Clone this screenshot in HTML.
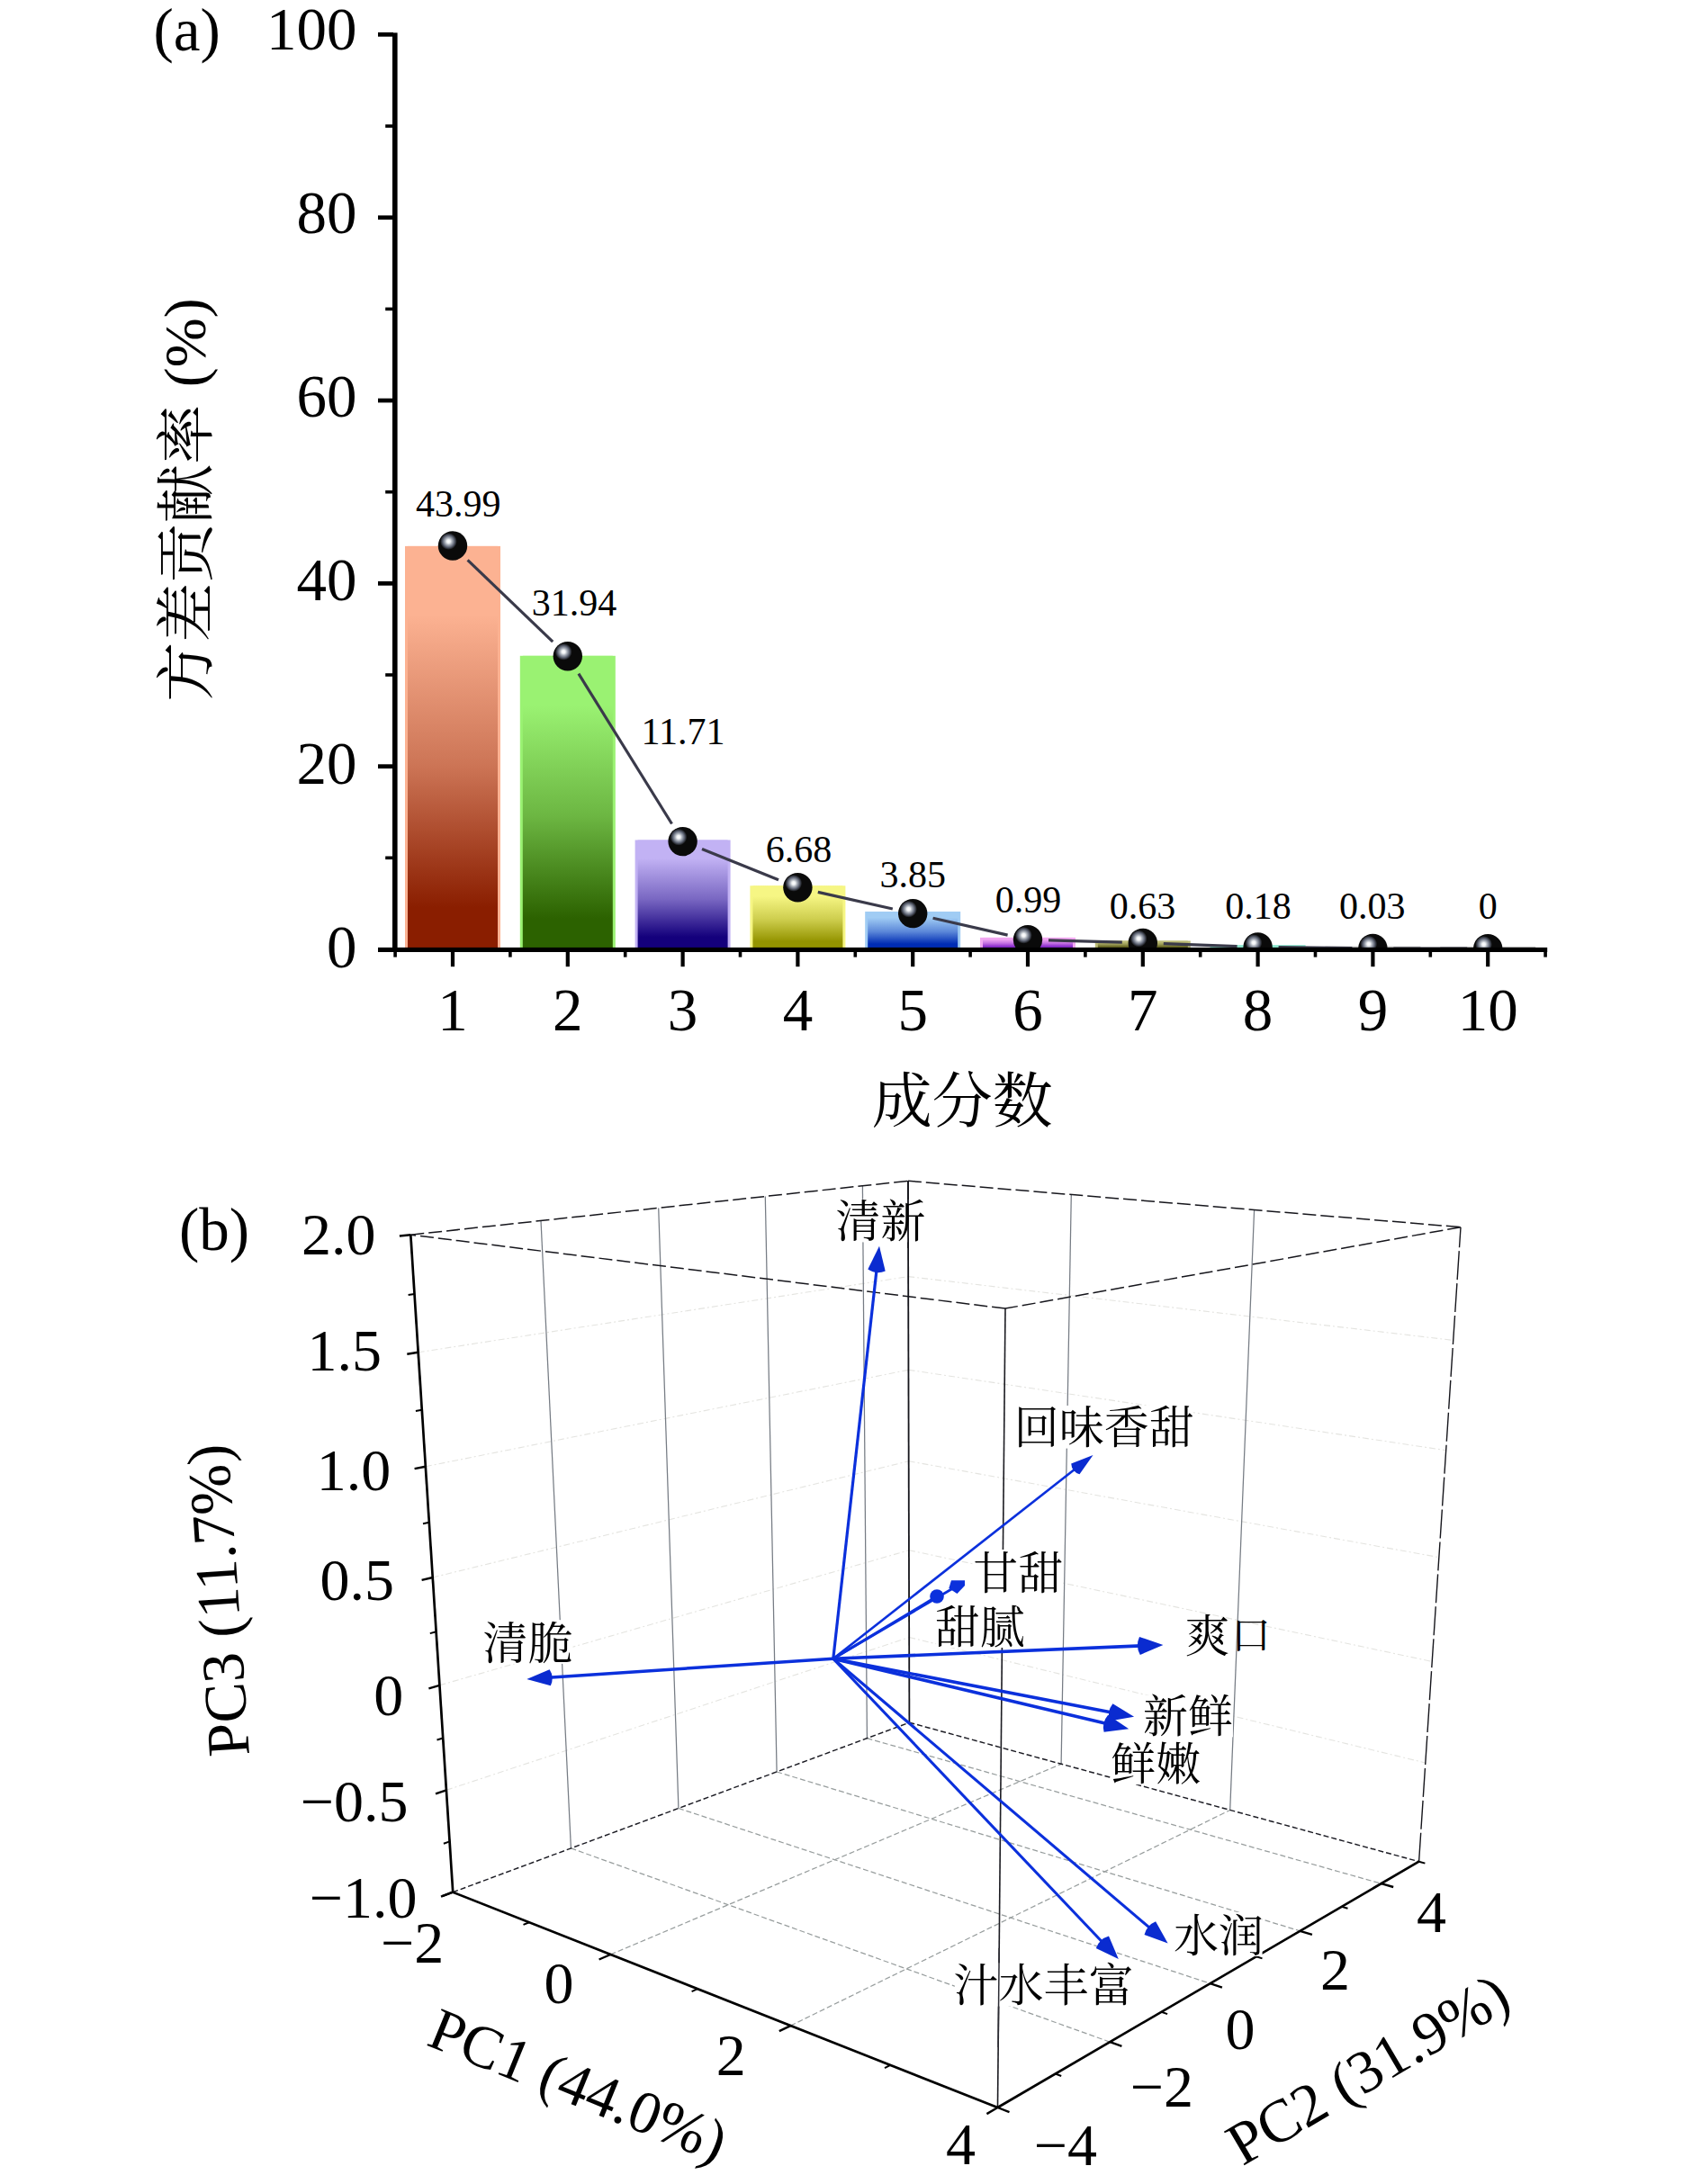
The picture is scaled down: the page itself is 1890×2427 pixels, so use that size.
<!DOCTYPE html>
<html lang="zh"><head><meta charset="utf-8"><title>PCA</title>
<style>
html,body{margin:0;padding:0;background:#fff}
svg{display:block}
text{font-family:"Liberation Serif","Noto Serif CJK SC",serif;fill:#000}
.cj{font-family:"Liberation Serif","Noto Serif CJK SC",serif}
</style></head><body>
<svg width="1890" height="2427" viewBox="0 0 1890 2427">
<rect width="1890" height="2427" fill="#fff"/>
<defs>
<radialGradient id="hl" cx="0.5" cy="0.5" r="0.5">
<stop offset="0" stop-color="#ffffff"/><stop offset="0.2" stop-color="#f0f2f4"/><stop offset="0.42" stop-color="#a8aeb8"/><stop offset="0.7" stop-color="#5a6070"/><stop offset="1" stop-color="#0a0a0a"/>
</radialGradient>
<clipPath id="clipA"><rect x="441" y="0" width="1300" height="1053"/></clipPath>

<linearGradient id="g0" x1="0" y1="0" x2="0" y2="1"><stop offset="0" stop-color="#FCB292"/><stop offset="0.17" stop-color="#FCB292"/><stop offset="0.55" stop-color="#cc7455"/><stop offset="0.9" stop-color="#8A1E00"/><stop offset="1" stop-color="#8A1E00"/></linearGradient>
<linearGradient id="g1" x1="0" y1="0" x2="0" y2="1"><stop offset="0" stop-color="#9AF272"/><stop offset="0.17" stop-color="#9AF272"/><stop offset="0.55" stop-color="#6cb642"/><stop offset="0.9" stop-color="#2C6200"/><stop offset="1" stop-color="#2C6200"/></linearGradient>
<linearGradient id="g2" x1="0" y1="0" x2="0" y2="1"><stop offset="0" stop-color="#C2B2F4"/><stop offset="0.17" stop-color="#C2B2F4"/><stop offset="0.55" stop-color="#7967c2"/><stop offset="0.9" stop-color="#14007C"/><stop offset="1" stop-color="#14007C"/></linearGradient>
<linearGradient id="g3" x1="0" y1="0" x2="0" y2="1"><stop offset="0" stop-color="#F6F684"/><stop offset="0.17" stop-color="#F6F684"/><stop offset="0.55" stop-color="#cdcd4d"/><stop offset="0.9" stop-color="#949400"/><stop offset="1" stop-color="#949400"/></linearGradient>
<linearGradient id="g4" x1="0" y1="0" x2="0" y2="1"><stop offset="0" stop-color="#A0CCF4"/><stop offset="0.17" stop-color="#A0CCF4"/><stop offset="0.55" stop-color="#5d89d9"/><stop offset="0.9" stop-color="#002CB4"/><stop offset="1" stop-color="#002CB4"/></linearGradient>
<linearGradient id="g5" x1="0" y1="0" x2="0" y2="1"><stop offset="0" stop-color="#F2A8F2"/><stop offset="0.17" stop-color="#F2A8F2"/><stop offset="0.55" stop-color="#c674e2"/><stop offset="0.9" stop-color="#8A2CCC"/><stop offset="1" stop-color="#8A2CCC"/></linearGradient>
<linearGradient id="g6" x1="0" y1="0" x2="0" y2="1"><stop offset="0" stop-color="#BCBC78"/><stop offset="0.17" stop-color="#BCBC78"/><stop offset="0.55" stop-color="#979753"/><stop offset="0.9" stop-color="#646420"/><stop offset="1" stop-color="#646420"/></linearGradient>
<linearGradient id="g7" x1="0" y1="0" x2="0" y2="1"><stop offset="0" stop-color="#90E8D0"/><stop offset="0.17" stop-color="#90E8D0"/><stop offset="0.55" stop-color="#5abca1"/><stop offset="0.9" stop-color="#108060"/><stop offset="1" stop-color="#108060"/></linearGradient>
<linearGradient id="g8" x1="0" y1="0" x2="0" y2="1"><stop offset="0" stop-color="#c0c0c0"/><stop offset="0.17" stop-color="#c0c0c0"/><stop offset="0.55" stop-color="#989898"/><stop offset="0.9" stop-color="#606060"/><stop offset="1" stop-color="#606060"/></linearGradient>
<linearGradient id="g9" x1="0" y1="0" x2="0" y2="1"><stop offset="0" stop-color="#c0c0c0"/><stop offset="0.17" stop-color="#c0c0c0"/><stop offset="0.55" stop-color="#989898"/><stop offset="0.9" stop-color="#606060"/><stop offset="1" stop-color="#606060"/></linearGradient>
</defs>
<g id="panelA">
<rect x="450.0" y="606.9" width="106" height="446.1" fill="#FCB292"/>
<rect x="453.0" y="606.9" width="100.0" height="446.1" fill="url(#g0)"/>
<rect x="577.8" y="728.8" width="106" height="324.2" fill="#9AF272"/>
<rect x="580.8" y="728.8" width="100.0" height="324.2" fill="url(#g1)"/>
<rect x="705.6" y="933.5" width="106" height="119.5" fill="#C2B2F4"/>
<rect x="708.6" y="933.5" width="100.0" height="119.5" fill="url(#g2)"/>
<rect x="833.4" y="984.3" width="106" height="68.7" fill="#F6F684"/>
<rect x="836.4" y="984.3" width="100.0" height="68.7" fill="url(#g3)"/>
<rect x="961.2" y="1013.0" width="106" height="40.0" fill="#A0CCF4"/>
<rect x="964.2" y="1013.0" width="100.0" height="40.0" fill="url(#g4)"/>
<rect x="1089.0" y="1041.9" width="106" height="11.1" fill="#F2A8F2"/>
<rect x="1092.0" y="1041.9" width="100.0" height="11.1" fill="url(#g5)"/>
<rect x="1216.8" y="1045.5" width="106" height="7.5" fill="#BCBC78"/>
<rect x="1219.8" y="1045.5" width="100.0" height="7.5" fill="url(#g6)"/>
<rect x="1344.6" y="1050.1" width="106" height="2.9" fill="#90E8D0"/>
<rect x="1472.4" y="1051.6" width="106" height="1.4" fill="#c0c0c0"/>
<rect x="1600.2" y="1051.9" width="106" height="1.1" fill="#c0c0c0"/>
<g clip-path="url(#clipA)">
<line x1="519.6" y1="622.4" x2="614.2" y2="713.2" stroke="#3a3a4a" stroke-width="3.2"/>
<line x1="642.9" y1="748.7" x2="746.5" y2="915.5" stroke="#3a3a4a" stroke-width="3.2"/>
<line x1="780.0" y1="943.6" x2="865.0" y2="977.7" stroke="#3a3a4a" stroke-width="3.2"/>
<line x1="908.8" y1="991.4" x2="991.8" y2="1010.0" stroke="#3a3a4a" stroke-width="3.2"/>
<line x1="1036.6" y1="1020.2" x2="1119.6" y2="1039.1" stroke="#3a3a4a" stroke-width="3.2"/>
<line x1="1165.0" y1="1044.9" x2="1246.8" y2="1047.2" stroke="#3a3a4a" stroke-width="3.2"/>
<line x1="1292.8" y1="1048.7" x2="1374.6" y2="1051.6" stroke="#3a3a4a" stroke-width="3.2"/>
<line x1="1420.6" y1="1052.7" x2="1502.4" y2="1053.7" stroke="#3a3a4a" stroke-width="3.2"/>
<line x1="1548.4" y1="1054.0" x2="1630.2" y2="1054.2" stroke="#3a3a4a" stroke-width="3.2"/>
<circle cx="503.0" cy="606.5" r="16.2" fill="#0a0a0a"/><circle cx="498.4" cy="601.6" r="9.4" fill="url(#hl)"/>
<circle cx="630.8" cy="729.2" r="16.2" fill="#0a0a0a"/><circle cx="626.2" cy="724.3" r="9.4" fill="url(#hl)"/>
<circle cx="758.6" cy="935.1" r="16.2" fill="#0a0a0a"/><circle cx="754.0" cy="930.2" r="9.4" fill="url(#hl)"/>
<circle cx="886.4" cy="986.3" r="16.2" fill="#0a0a0a"/><circle cx="881.8" cy="981.4" r="9.4" fill="url(#hl)"/>
<circle cx="1014.2" cy="1015.1" r="16.2" fill="#0a0a0a"/><circle cx="1009.6" cy="1010.2" r="9.4" fill="url(#hl)"/>
<circle cx="1142.0" cy="1044.2" r="16.2" fill="#0a0a0a"/><circle cx="1137.4" cy="1039.3" r="9.4" fill="url(#hl)"/>
<circle cx="1269.8" cy="1047.9" r="16.2" fill="#0a0a0a"/><circle cx="1265.2" cy="1043.0" r="9.4" fill="url(#hl)"/>
<circle cx="1397.6" cy="1052.5" r="16.2" fill="#0a0a0a"/><circle cx="1393.0" cy="1047.6" r="9.4" fill="url(#hl)"/>
<circle cx="1525.4" cy="1054.0" r="16.2" fill="#0a0a0a"/><circle cx="1520.8" cy="1049.1" r="9.4" fill="url(#hl)"/>
<circle cx="1653.2" cy="1054.3" r="16.2" fill="#0a0a0a"/><circle cx="1648.6" cy="1049.4" r="9.4" fill="url(#hl)"/>
</g>
<rect x="436" y="36.4" width="5.6" height="1021.6" fill="#000"/>
<rect x="420" y="1052.9" width="1299.2" height="5.1" fill="#000"/>
<rect x="428.2" y="951.5" width="9" height="3.6" fill="#000"/>
<rect x="420" y="849.3" width="17" height="4.7" fill="#000"/>
<rect x="428.2" y="748.2" width="9" height="3.6" fill="#000"/>
<rect x="420" y="646.0" width="17" height="4.7" fill="#000"/>
<rect x="428.2" y="544.9" width="9" height="3.6" fill="#000"/>
<rect x="420" y="442.7" width="17" height="4.7" fill="#000"/>
<rect x="428.2" y="341.6" width="9" height="3.6" fill="#000"/>
<rect x="420" y="239.4" width="17" height="4.7" fill="#000"/>
<rect x="428.2" y="138.3" width="9" height="3.6" fill="#000"/>
<rect x="420" y="36.0" width="17" height="4.7" fill="#000"/>
<rect x="500.9" y="1057" width="4.2" height="17.2" fill="#000"/>
<rect x="628.7" y="1057" width="4.2" height="17.2" fill="#000"/>
<rect x="756.5" y="1057" width="4.2" height="17.2" fill="#000"/>
<rect x="884.3" y="1057" width="4.2" height="17.2" fill="#000"/>
<rect x="1012.1" y="1057" width="4.2" height="17.2" fill="#000"/>
<rect x="1139.9" y="1057" width="4.2" height="17.2" fill="#000"/>
<rect x="1267.7" y="1057" width="4.2" height="17.2" fill="#000"/>
<rect x="1395.5" y="1057" width="4.2" height="17.2" fill="#000"/>
<rect x="1523.3" y="1057" width="4.2" height="17.2" fill="#000"/>
<rect x="1651.1" y="1057" width="4.2" height="17.2" fill="#000"/>
<rect x="437.3" y="1057" width="3.6" height="6.6" fill="#000"/>
<rect x="565.1" y="1057" width="3.6" height="6.6" fill="#000"/>
<rect x="692.9" y="1057" width="3.6" height="6.6" fill="#000"/>
<rect x="820.7" y="1057" width="3.6" height="6.6" fill="#000"/>
<rect x="948.5" y="1057" width="3.6" height="6.6" fill="#000"/>
<rect x="1076.3" y="1057" width="3.6" height="6.6" fill="#000"/>
<rect x="1204.1" y="1057" width="3.6" height="6.6" fill="#000"/>
<rect x="1331.9" y="1057" width="3.6" height="6.6" fill="#000"/>
<rect x="1459.7" y="1057" width="3.6" height="6.6" fill="#000"/>
<rect x="1587.5" y="1057" width="3.6" height="6.6" fill="#000"/>
<rect x="1715.3" y="1057" width="3.6" height="6.6" fill="#000"/>
<text x="396.5" y="1074.7" font-size="67" text-anchor="end">0</text>
<text x="396.5" y="870.8" font-size="67" text-anchor="end">20</text>
<text x="396.5" y="666.9" font-size="67" text-anchor="end">40</text>
<text x="396.5" y="463.0" font-size="67" text-anchor="end">60</text>
<text x="396.5" y="259.1" font-size="67" text-anchor="end">80</text>
<text x="396.5" y="55.2" font-size="67" text-anchor="end">100</text>
<text x="503.0" y="1144.5" font-size="67" text-anchor="middle">1</text>
<text x="630.8" y="1144.5" font-size="67" text-anchor="middle">2</text>
<text x="758.6" y="1144.5" font-size="67" text-anchor="middle">3</text>
<text x="886.4" y="1144.5" font-size="67" text-anchor="middle">4</text>
<text x="1014.2" y="1144.5" font-size="67" text-anchor="middle">5</text>
<text x="1142.0" y="1144.5" font-size="67" text-anchor="middle">6</text>
<text x="1269.8" y="1144.5" font-size="67" text-anchor="middle">7</text>
<text x="1397.6" y="1144.5" font-size="67" text-anchor="middle">8</text>
<text x="1525.4" y="1144.5" font-size="67" text-anchor="middle">9</text>
<text x="1653.2" y="1144.5" font-size="67" text-anchor="middle">10</text>
<text x="170.5" y="55.6" font-size="67">(a)</text>
<text x="509.2" y="574.1" font-size="42" text-anchor="middle">43.99</text>
<text x="638" y="684" font-size="42" text-anchor="middle">31.94</text>
<text x="759.1" y="826.6" font-size="42" text-anchor="middle">11.71</text>
<text x="887.5" y="957.8" font-size="42" text-anchor="middle">6.68</text>
<text x="1014.2" y="985.5" font-size="42" text-anchor="middle">3.85</text>
<text x="1142.5" y="1013.5" font-size="42" text-anchor="middle">0.99</text>
<text x="1269.6" y="1020.6" font-size="42" text-anchor="middle">0.63</text>
<text x="1397.9" y="1020.6" font-size="42" text-anchor="middle">0.18</text>
<text x="1524.8" y="1020.6" font-size="42" text-anchor="middle">0.03</text>
<text x="1653.2" y="1020.6" font-size="42" text-anchor="middle">0</text>
<text class="cj" x="1069.3" y="1247.3" font-size="67" text-anchor="middle">成分数</text>
<text class="cj" transform="translate(229.5,555.5) rotate(-90)" font-size="66" text-anchor="middle">方差贡献率<tspan dx="3" dy="-2"> (%)</tspan></text>
</g>
<g id="panelB" fill="none">
<line x1="495.9" y1="1989.3" x2="1010.2" y2="1819.5" stroke="#e4e4e0" stroke-width="1.1" stroke-dasharray="7 3 2 3"/>
<line x1="1010.2" y1="1819.5" x2="1583.8" y2="1959.0" stroke="#e4e4e0" stroke-width="1.1" stroke-dasharray="7 3 2 3"/>
<line x1="488.4" y1="1872.8" x2="1010.0" y2="1722.7" stroke="#e4e4e0" stroke-width="1.1" stroke-dasharray="7 3 2 3"/>
<line x1="1010.0" y1="1722.7" x2="1591.2" y2="1846.4" stroke="#e4e4e0" stroke-width="1.1" stroke-dasharray="7 3 2 3"/>
<line x1="480.7" y1="1753.0" x2="1009.7" y2="1623.7" stroke="#e4e4e0" stroke-width="1.1" stroke-dasharray="7 3 2 3"/>
<line x1="1009.7" y1="1623.7" x2="1598.9" y2="1730.6" stroke="#e4e4e0" stroke-width="1.1" stroke-dasharray="7 3 2 3"/>
<line x1="472.8" y1="1629.7" x2="1009.5" y2="1522.3" stroke="#e4e4e0" stroke-width="1.1" stroke-dasharray="7 3 2 3"/>
<line x1="1009.5" y1="1522.3" x2="1606.7" y2="1611.7" stroke="#e4e4e0" stroke-width="1.1" stroke-dasharray="7 3 2 3"/>
<line x1="464.7" y1="1502.8" x2="1009.2" y2="1418.6" stroke="#e4e4e0" stroke-width="1.1" stroke-dasharray="7 3 2 3"/>
<line x1="1009.2" y1="1418.6" x2="1614.8" y2="1489.4" stroke="#e4e4e0" stroke-width="1.1" stroke-dasharray="7 3 2 3"/>
<line x1="634.4" y1="2053.9" x2="601.0" y2="1356.5" stroke="#767c84" stroke-width="1.25"/>
<line x1="753.9" y1="2009.5" x2="731.7" y2="1342.4" stroke="#767c84" stroke-width="1.25"/>
<line x1="863.1" y1="1969.0" x2="850.3" y2="1329.5" stroke="#767c84" stroke-width="1.25"/>
<line x1="963.4" y1="1931.7" x2="958.4" y2="1317.8" stroke="#767c84" stroke-width="1.25"/>
<line x1="1179.1" y1="1960.3" x2="1190.3" y2="1327.5" stroke="#767c84" stroke-width="1.25"/>
<line x1="1366.7" y1="2011.5" x2="1393.6" y2="1344.5" stroke="#767c84" stroke-width="1.25"/>
<line x1="678.4" y1="2172.0" x2="1179.1" y2="1960.3" stroke="#989e9e" stroke-width="1.25" stroke-dasharray="6 3"/>
<line x1="878.4" y1="2251.1" x2="1366.7" y2="2011.5" stroke="#989e9e" stroke-width="1.25" stroke-dasharray="6 3"/>
<line x1="634.4" y1="2053.9" x2="1233.3" y2="2269.2" stroke="#989e9e" stroke-width="1.25" stroke-dasharray="6 3"/>
<line x1="753.9" y1="2009.5" x2="1344.6" y2="2204.2" stroke="#989e9e" stroke-width="1.25" stroke-dasharray="6 3"/>
<line x1="863.1" y1="1969.0" x2="1444.5" y2="2145.8" stroke="#989e9e" stroke-width="1.25" stroke-dasharray="6 3"/>
<line x1="963.4" y1="1931.7" x2="1534.7" y2="2093.2" stroke="#989e9e" stroke-width="1.25" stroke-dasharray="6 3"/>
<line x1="503.2" y1="2102.7" x2="1010.4" y2="1914.2" stroke="#1c1c24" stroke-width="1.45" stroke-dasharray="6 3"/>
<line x1="1010.4" y1="1914.2" x2="1576.6" y2="2068.7" stroke="#1c1c24" stroke-width="1.45" stroke-dasharray="6 3"/>
<line x1="456.3" y1="1372.2" x2="1008.9" y2="1312.3" stroke="#16161c" stroke-width="1.5" stroke-dasharray="15 5"/>
<line x1="1008.9" y1="1312.3" x2="1623.0" y2="1363.7" stroke="#16161c" stroke-width="1.5" stroke-dasharray="15 5"/>
<line x1="1623.0" y1="1363.7" x2="1117.0" y2="1454.1" stroke="#16161c" stroke-width="1.5" stroke-dasharray="15 5"/>
<line x1="1117.0" y1="1454.1" x2="456.3" y2="1372.2" stroke="#16161c" stroke-width="1.5" stroke-dasharray="15 5"/>
<line x1="1010.4" y1="1914.2" x2="1008.9" y2="1312.3" stroke="#16161c" stroke-width="1.8"/>
<line x1="1108.5" y1="2342.0" x2="1117.0" y2="1454.1" stroke="#1c1c22" stroke-width="1.6"/>
<line x1="1576.6" y1="2068.7" x2="1623.0" y2="1363.7" stroke="#16161c" stroke-width="1.4" stroke-dasharray="32 4"/>
<line x1="925.8" y1="1843.2" x2="974.2" y2="1409.5" stroke="#0b30dc" stroke-width="3.2"/>
<path d="M977.0,1384.7 L983.7,1412.6 Q973.4,1416.5 964.3,1410.5 Z" fill="#0a2bd0"/>
<line x1="925.8" y1="1843.2" x2="1196.4" y2="1631.1" stroke="#0b30dc" stroke-width="2.6"/>
<path d="M1214.5,1616.9 L1199.5,1638.2 Q1190.9,1635.4 1190.2,1626.4 Z" fill="#0a2bd0"/>
<line x1="925.8" y1="1843.2" x2="609.2" y2="1864.3" stroke="#0b30dc" stroke-width="3.5"/>
<path d="M585.3,1865.9 L610.6,1855.2 Q616.2,1863.8 611.8,1873.2 Z" fill="#0a2bd0"/>
<line x1="925.8" y1="1843.2" x2="1268.4" y2="1828.9" stroke="#0b30dc" stroke-width="3.6"/>
<path d="M1292.4,1827.9 L1266.8,1839.0 Q1261.4,1829.2 1266.0,1819.0 Z" fill="#0a2bd0"/>
<line x1="925.8" y1="1843.2" x2="1236.5" y2="1903.2" stroke="#0b30dc" stroke-width="3.5"/>
<path d="M1260.1,1907.8 L1232.7,1912.4 Q1229.7,1901.9 1236.4,1893.3 Z" fill="#0a2bd0"/>
<line x1="925.8" y1="1843.2" x2="1230.9" y2="1915.7" stroke="#0b30dc" stroke-width="3.5"/>
<path d="M1254.2,1921.3 L1226.6,1924.8 Q1224.0,1914.1 1231.2,1905.8 Z" fill="#0a2bd0"/>
<line x1="925.8" y1="1843.2" x2="1279.3" y2="2143.9" stroke="#0b30dc" stroke-width="3.1"/>
<path d="M1297.6,2159.5 L1271.5,2150.1 Q1274.0,2139.4 1284.1,2135.2 Z" fill="#0a2bd0"/>
<line x1="925.8" y1="1843.2" x2="1226.3" y2="2159.7" stroke="#0b30dc" stroke-width="3.1"/>
<path d="M1242.8,2177.1 L1217.8,2165.0 Q1221.5,2154.6 1232.0,2151.5 Z" fill="#0a2bd0"/>
<line x1="925.8" y1="1843.2" x2="1064" y2="1762" stroke="#0b30dc" stroke-width="2.8"/>
<line x1="925.8" y1="1843.2" x2="1041" y2="1774" stroke="#0b30dc" stroke-width="2.8"/>
<polygon points="1072,1756.3 1072,1762 1063.5,1771 1054.3,1765 1057,1756.3" fill="#0b30dc"/>
<circle cx="1041" cy="1774" r="7.8" fill="#0b30dc"/>
<line x1="503.2" y1="2102.7" x2="456.3" y2="1372.2" stroke="#000" stroke-width="2.7"/>
<line x1="503.2" y1="2102.7" x2="1108.5" y2="2342.0" stroke="#000" stroke-width="2.7"/>
<line x1="1108.5" y1="2342.0" x2="1576.6" y2="2068.7" stroke="#000" stroke-width="2.7"/>
<line x1="503.2" y1="2102.7" x2="491.4" y2="2107.1" stroke="#000" stroke-width="2.4"/>
<line x1="499.6" y1="2046.4" x2="492.9" y2="2048.7" stroke="#000" stroke-width="2"/>
<line x1="495.9" y1="1989.3" x2="484.0" y2="1993.3" stroke="#000" stroke-width="2.4"/>
<line x1="492.2" y1="1931.5" x2="485.5" y2="1933.5" stroke="#000" stroke-width="2"/>
<line x1="488.4" y1="1872.8" x2="476.4" y2="1876.3" stroke="#000" stroke-width="2.4"/>
<line x1="484.6" y1="1813.3" x2="477.8" y2="1815.1" stroke="#000" stroke-width="2"/>
<line x1="480.7" y1="1753.0" x2="468.6" y2="1755.9" stroke="#000" stroke-width="2.4"/>
<line x1="476.8" y1="1691.8" x2="470.0" y2="1693.3" stroke="#000" stroke-width="2"/>
<line x1="472.8" y1="1629.7" x2="460.6" y2="1632.1" stroke="#000" stroke-width="2.4"/>
<line x1="468.8" y1="1566.7" x2="461.9" y2="1567.9" stroke="#000" stroke-width="2"/>
<line x1="464.7" y1="1502.8" x2="452.3" y2="1504.7" stroke="#000" stroke-width="2.4"/>
<line x1="460.5" y1="1438.0" x2="453.6" y2="1438.9" stroke="#000" stroke-width="2"/>
<line x1="456.3" y1="1372.2" x2="443.9" y2="1373.5" stroke="#000" stroke-width="2.4"/>
<line x1="503.2" y1="2102.7" x2="490.0" y2="2107.6" stroke="#000" stroke-width="2.4"/>
<line x1="588.0" y1="2136.3" x2="581.5" y2="2138.9" stroke="#000" stroke-width="2"/>
<line x1="678.4" y1="2172.0" x2="665.6" y2="2177.5" stroke="#000" stroke-width="2.4"/>
<line x1="775.0" y1="2210.2" x2="768.6" y2="2213.1" stroke="#000" stroke-width="2"/>
<line x1="878.4" y1="2251.1" x2="865.8" y2="2257.2" stroke="#000" stroke-width="2.4"/>
<line x1="989.2" y1="2294.9" x2="983.0" y2="2298.2" stroke="#000" stroke-width="2"/>
<line x1="1108.5" y1="2342.0" x2="1096.4" y2="2349.1" stroke="#000" stroke-width="2.4"/>
<line x1="1108.5" y1="2342.0" x2="1121.5" y2="2347.2" stroke="#000" stroke-width="2.4"/>
<line x1="1172.7" y1="2304.5" x2="1179.2" y2="2307.0" stroke="#000" stroke-width="2"/>
<line x1="1233.3" y1="2269.2" x2="1246.4" y2="2273.9" stroke="#000" stroke-width="2.4"/>
<line x1="1290.5" y1="2235.8" x2="1297.1" y2="2238.1" stroke="#000" stroke-width="2"/>
<line x1="1344.6" y1="2204.2" x2="1357.9" y2="2208.6" stroke="#000" stroke-width="2.4"/>
<line x1="1395.9" y1="2174.2" x2="1402.5" y2="2176.4" stroke="#000" stroke-width="2"/>
<line x1="1444.5" y1="2145.8" x2="1457.9" y2="2149.9" stroke="#000" stroke-width="2.4"/>
<line x1="1490.7" y1="2118.9" x2="1497.5" y2="2120.8" stroke="#000" stroke-width="2"/>
<line x1="1534.7" y1="2093.2" x2="1548.2" y2="2097.0" stroke="#000" stroke-width="2.4"/>
<line x1="1576.6" y1="2068.7" x2="1583.4" y2="2070.6" stroke="#000" stroke-width="2"/>
</g>
<g id="labelsB">
<text x="417.5" y="1393.8" font-size="66" text-anchor="end">2.0</text>
<text x="424" y="1522.6" font-size="66" text-anchor="end">1.5</text>
<text x="434.2" y="1656.4" font-size="66" text-anchor="end">1.0</text>
<text x="438" y="1777.5" font-size="66" text-anchor="end">0.5</text>
<text x="448.2" y="1905.6" font-size="66" text-anchor="end">0</text>
<text x="453.4" y="2023.6" font-size="66" text-anchor="end">−0.5</text>
<text x="463.5" y="2131.3" font-size="66" text-anchor="end">−1.0</text>
<text x="493.3" y="2180.8" font-size="66" text-anchor="end">−2</text>
<text x="637.4" y="2226.1" font-size="66" text-anchor="end">0</text>
<text x="828.7" y="2306.3" font-size="66" text-anchor="end">2</text>
<text x="1083.9" y="2405.1" font-size="66" text-anchor="end">4</text>
<text x="1219" y="2406" font-size="66" text-anchor="end">−4</text>
<text x="1326" y="2341.4" font-size="66" text-anchor="end">−2</text>
<text x="1394.6" y="2277.2" font-size="66" text-anchor="end">0</text>
<text x="1500" y="2211.3" font-size="66" text-anchor="end">2</text>
<text x="1607" y="2146.7" font-size="66" text-anchor="end">4</text>
<text x="199" y="1389.2" font-size="67">(b)</text>
<text transform="translate(265,1777) rotate(-94)" font-size="67" text-anchor="middle">PC3 (11.7%)</text>
<text transform="translate(472.3,2271.9) rotate(22.2)" font-size="67">PC1 (44.0%)</text>
<text transform="translate(1380.6,2407.5) rotate(-30.5)" font-size="67">PC2 (31.9%)</text>
<rect x="929.9" y="1332.8" width="97.5" height="47.6" fill="#fff"/>
<rect x="1131.2" y="1562.0" width="194.5" height="47.6" fill="#fff"/>
<rect x="1082.7" y="1725.5" width="97.6" height="46.0" fill="#fff"/>
<rect x="1040.1" y="1785.1" width="99.0" height="45.9" fill="#fff"/>
<rect x="1271.5" y="1883.6" width="98.4" height="46.7" fill="#fff"/>
<rect x="1235.6" y="1936.5" width="97.5" height="46.7" fill="#fff"/>
<rect x="538.0" y="1800.2" width="98.5" height="48.7" fill="#fff"/>
<rect x="1305.3" y="2124.9" width="97.3" height="49.0" fill="#fff"/>
<rect x="1060.8" y="2181.3" width="196.0" height="48.3" fill="#fff"/>
<rect x="1107" y="1722" width="10" height="109" fill="#fff"/>
<line x1="1009.1" y1="1387.0" x2="1008.9" y2="1312.3" stroke="#16161c" stroke-width="1.8"/>
<line x1="1110.2" y1="2165.0" x2="1109.1" y2="2274.9" stroke="#2c2c34" stroke-width="1.5"/>
<text class="cj" x="928.5" y="1375.0" font-size="50">清新</text>
<text class="cj" x="1126.8" y="1604.2" font-size="50">回味香甜</text>
<text class="cj" x="1081.3" y="1766.1" font-size="50">甘甜</text>
<text class="cj" x="1038.7" y="1825.6" font-size="50">甜腻</text>
<text class="cj" x="1316.5" y="1836.1" font-size="50">爽<tspan font-size="44" dx="1.5" dy="-3">口</tspan></text>
<text class="cj" x="1270.1" y="1924.9" font-size="50">新鲜</text>
<text class="cj" x="1234.2" y="1977.8" font-size="50">鲜嫩</text>
<text class="cj" x="536.6" y="1843.5" font-size="50">清脆</text>
<text class="cj" x="1303.9" y="2168.5" font-size="50">水润</text>
<text class="cj" x="1059.4" y="2224.2" font-size="50">汁水丰富</text>
</g>
</svg></body></html>
